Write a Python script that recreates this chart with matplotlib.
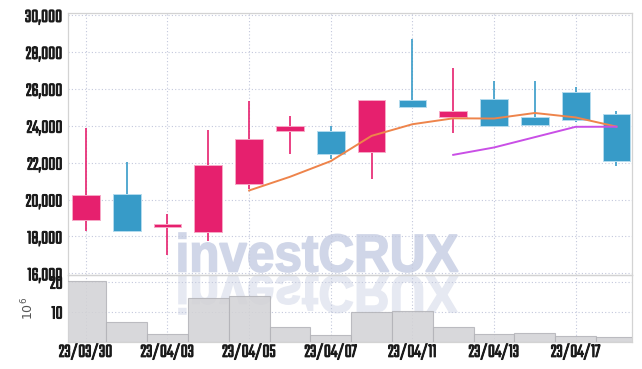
import numpy as np
import matplotlib
matplotlib.use('Agg')
import matplotlib.pyplot as plt
import matplotlib.ticker as mticker
import matplotlib.patheffects as pe
from matplotlib.textpath import TextPath
from matplotlib.patches import PathPatch
from matplotlib.font_manager import FontProperties
from matplotlib.transforms import Affine2D

# daily prices
dates = ['23/03/30', '23/03/31', '23/04/03', '23/04/04', '23/04/05', '23/04/06', '23/04/07',
         '23/04/10', '23/04/11', '23/04/12', '23/04/13', '23/04/14', '23/04/17', '23/04/18']
opens = [18900, 20300, 18500, 18250, 20850, 23700, 23700, 22600, 25400, 24450, 25450, 24450, 25850, 24650]
highs = [23850, 22050, 19200, 23750, 25350, 24500, 24000, 25400, 28700, 27150, 26400, 26400, 26100, 24800]
lows = [18300, 18250, 17000, 17750, 20550, 22450, 22200, 21100, 25000, 23600, 24000, 24000, 24200, 21800]
closes = [20250, 18300, 18650, 21850, 23300, 24000, 22450, 25400, 25000, 24800, 24000, 24050, 24300, 22100]
nan = np.nan
ma5 = [nan, nan, nan, nan, 20490, 21230, 22080, 23450, 24080, 24400, 24390, 24690, 24450, 23950]
ma10 = [nan, nan, nan, nan, nan, nan, nan, nan, nan, 22420, 22820, 23380, 23940, 23945]
volume = [20.2, 6.5, 2.5, 14.6, 15.2, 4.9, 2.2, 9.9, 10.2, 4.9, 2.6, 2.9, 1.9, 1.5]  # x 10^6

UP = '#e6206e'
DOWN = '#379bc8'
GRID = '#c3c8dc'

plt.rcParams['font.family'] = ['Teko', 'DejaVu Sans']

fig = plt.figure(figsize=(6.42, 3.69), dpi=100)
ax = fig.add_axes([0.1064, 0.2547, 0.8786, 0.7109])
vax = fig.add_axes([0.1064, 0.0745, 0.8786, 0.1802], sharex=ax)
ax.set_facecolor('none')
vax.set_facecolor('none')

# watermark with its reflection
prop = FontProperties(family='Liberation Sans', weight='bold')
tp = TextPath((0, 0), 'investCRUX', size=100, prop=prop)
ext = tp.get_extents()
sx = (458 - 179) / ext.width
sy = (272 - 233) / ext.height
H = 369
tr = Affine2D().translate(-ext.x0, -ext.y0).scale(sx, sy).translate(179, H - 272)
fig.add_artist(PathPatch(tp, transform=tr, facecolor='#d0d6e8', edgecolor='#d0d6e8',
                         linewidth=1.2, zorder=-5))
tr2 = Affine2D().translate(-ext.x0, -ext.y0).scale(sx, -sy).translate(179, H - 275)
fig.add_artist(PathPatch(tp, transform=tr2, facecolor='#e6e9f2', edgecolor='#e6e9f2',
                         linewidth=1.2, zorder=-5))

x = np.arange(len(dates))
o = np.array(opens)
c = np.array(closes)
colors = [UP if cc >= oo else DOWN for oo, cc in zip(o, c)]
edges = ['#f7a8c6' if cc >= oo else '#b3dbee' for oo, cc in zip(o, c)]

ax.vlines(x, lows, highs, colors=colors, linewidth=1.2, zorder=3)
ax.bar(x, np.maximum(np.abs(c - o), 60), bottom=np.minimum(o, c), width=0.68,
       color=colors, edgecolor=edges, linewidth=0.7, zorder=4)
ax.plot(x, ma5, color='#ee844b', linewidth=1.4, zorder=5)
ax.plot(x, ma10, color='#c94fe6', linewidth=1.4, zorder=5)

ax.set_ylim(15908, 30125)
ax.set_xlim(-0.43, 13.39)
ax.yaxis.set_major_locator(mticker.MultipleLocator(2000))
ax.yaxis.set_major_formatter(mticker.FuncFormatter(lambda v, p: f'{int(v):,}'))
ax.set_xticks(x[::2])
ax.tick_params(axis='x', labelbottom=False, length=0)
ax.tick_params(axis='y', length=0, pad=4, labelsize=14)
ax.grid(True, linestyle=(0, (1, 2)), color=GRID, linewidth=0.8, zorder=0)

vax.bar(x, volume, width=1.0, color='#d2d2d5', edgecolor='#b3b3b8', linewidth=0.8, alpha=0.85, zorder=3)
vax.set_ylim(0, 22.2)
vax.set_yticks([10, 20])
vax.set_xticks(x[::2])
vax.set_xticklabels(dates[::2])
vax.tick_params(length=0, labelsize=14)
vax.tick_params(axis='y', pad=4)
vax.tick_params(axis='x', pad=1)
vax.grid(True, linestyle=(0, (1, 2)), color=GRID, linewidth=0.8, zorder=0)
vax.set_ylabel(r'$10^6$', color='#555555', fontsize=9, family='DejaVu Sans')
vax.yaxis.set_label_coords(-0.056, 0.5)

bold = [pe.withStroke(linewidth=0.7, foreground='#1a1a1a')]
for a in (ax, vax):
    for s in a.spines.values():
        s.set_color('#d3d3d3')
        s.set_linewidth(0.9)
    for lbl in a.get_xticklabels() + a.get_yticklabels():
        lbl.set_fontweight('bold')
        lbl.set_color('#1a1a1a')
        lbl.set_path_effects(bold)

fig.savefig('out.png', dpi=100, facecolor='white')
